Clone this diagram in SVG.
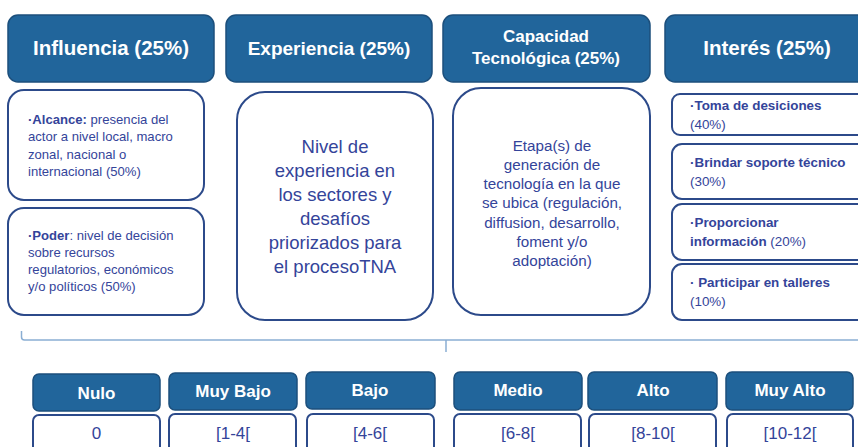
<svg xmlns="http://www.w3.org/2000/svg" width="858" height="447" viewBox="0 0 858 447">
<style>
.hd{fill:#21659b;stroke:#1c4f7c;stroke-width:1.5}
.bx{fill:#fff;stroke:#2c4a8a;stroke-width:2}
.ht{font-family:"Liberation Sans",Arial,sans-serif;font-weight:bold;fill:#fff;text-anchor:middle}
.t{font-family:"Liberation Sans",Arial,sans-serif;fill:#34449a}
.b{font-weight:bold}
.c{text-anchor:middle}
</style>
<rect width="858" height="447" fill="#fff"/>
<g id="h-influencia"><rect class="hd" x="8" y="15" width="206" height="67" rx="10"/><text class="ht" x="111" y="55" font-size="20.5">Influencia (25%)</text></g>
<g id="h-experiencia"><rect class="hd" x="226" y="15" width="206" height="67" rx="10"/><text class="ht" x="329" y="55" font-size="19">Experiencia (25%)</text></g>
<g id="h-capacidad"><rect class="hd" x="443" y="15" width="207" height="67" rx="10"/><text class="ht" x="546" y="42" font-size="17">Capacidad</text><text class="ht" x="546" y="64" font-size="17">Tecnológica (25%)</text></g>
<g id="h-interes"><rect class="hd" x="665" y="15" width="210" height="67" rx="10"/><text class="ht" x="767" y="55" font-size="20.5">Interés (25%)</text></g>

<g id="alcance"><rect class="bx" x="8" y="90" width="196" height="110" rx="16"/>
<text class="t" font-size="13.1"><tspan x="28" y="124"><tspan class="b">·Alcance:</tspan> presencia del</tspan><tspan x="28" y="141">actor a nivel local, macro</tspan><tspan x="28" y="159">zonal, nacional o</tspan><tspan x="28" y="176">internacional (50%)</tspan></text></g>
<g id="poder"><rect class="bx" x="8" y="208" width="196" height="107" rx="16"/>
<text class="t" font-size="13.1"><tspan x="28" y="240"><tspan class="b">·Poder</tspan>: nivel de decisión</tspan><tspan x="28" y="257">sobre recursos</tspan><tspan x="28" y="274">regulatorios, económicos</tspan><tspan x="28" y="291">y/o políticos (50%)</tspan></text></g>
<g id="experiencia"><rect class="bx" x="237" y="92" width="196" height="228" rx="28"/>
<text class="t c" font-size="18.5"><tspan x="335" y="153">Nivel de</tspan><tspan x="335" y="177">experiencia en</tspan><tspan x="335" y="201">los sectores y</tspan><tspan x="335" y="225">desafíos</tspan><tspan x="335" y="249">priorizados para</tspan><tspan x="335" y="273">el procesoTNA</tspan></text></g>
<g id="capacidad"><rect class="bx" x="453" y="88" width="197" height="227" rx="28"/>
<text class="t c" font-size="15.2"><tspan x="552" y="151">Etapa(s) de</tspan><tspan x="552" y="170">generación de</tspan><tspan x="552" y="189">tecnología en la que</tspan><tspan x="552" y="208">se ubica (regulación,</tspan><tspan x="552" y="228">diffusion, desarrollo,</tspan><tspan x="552" y="247">foment y/o</tspan><tspan x="552" y="266">adoptación)</tspan></text></g>
<g id="toma"><rect class="bx" x="672" y="94" width="200" height="41" rx="8"/>
<text class="t" font-size="13.4"><tspan x="690" y="110" class="b">·Toma de desiciones</tspan><tspan x="690" y="129">(40%)</tspan></text></g>
<g id="brindar"><rect class="bx" x="672" y="144" width="200" height="55" rx="10"/>
<text class="t" font-size="13.4"><tspan x="690" y="167" class="b">·Brindar soporte técnico</tspan><tspan x="690" y="186">(30%)</tspan></text></g>
<g id="proporcionar"><rect class="bx" x="672" y="204" width="200" height="56" rx="10"/>
<text class="t" font-size="13.4"><tspan x="690" y="227" class="b">·Proporcionar</tspan><tspan x="690" y="246"><tspan class="b">información</tspan> (20%)</tspan></text></g>
<g id="participar"><rect class="bx" x="672" y="264" width="200" height="56" rx="10"/>
<text class="t" font-size="13.4"><tspan x="690" y="287" class="b">· Participar en talleres</tspan><tspan x="690" y="306">(10%)</tspan></text></g>

<g id="connectors"><path d="M21.5 331 V337 Q21.5 340 24.5 340 H858 M446 340 V352" fill="none" stroke="#8aaed3" stroke-width="1.5"/></g>

<g id="nulo"><rect class="hd" x="33" y="374" width="127" height="37" rx="6"/><text class="ht" x="96.5" y="399" font-size="17">Nulo</text>
<rect class="bx" x="33" y="415" width="127" height="40" rx="6"/><text class="t c" x="96.5" y="439" font-size="17">0</text></g>
<g id="muybajo"><rect class="hd" x="169" y="373" width="128" height="37" rx="6"/><text class="ht" x="233" y="397" font-size="17">Muy Bajo</text>
<rect class="bx" x="169" y="414" width="127" height="40" rx="6"/><text class="t c" x="233" y="439" font-size="17">[1-4[</text></g>
<g id="bajo"><rect class="hd" x="306" y="372" width="129" height="37" rx="6"/><text class="ht" x="370" y="396" font-size="17">Bajo</text>
<rect class="bx" x="307" y="414" width="127" height="40" rx="6"/><text class="t c" x="370" y="439" font-size="17">[4-6[</text></g>
<g id="medio"><rect class="hd" x="454" y="372" width="128" height="38" rx="6"/><text class="ht" x="518" y="396" font-size="17">Medio</text>
<rect class="bx" x="454" y="414" width="127" height="40" rx="6"/><text class="t c" x="518" y="439" font-size="17">[6-8[</text></g>
<g id="alto"><rect class="hd" x="588" y="372" width="129" height="38" rx="6"/><text class="ht" x="653" y="396" font-size="17">Alto</text>
<rect class="bx" x="589" y="414" width="127" height="40" rx="6"/><text class="t c" x="653" y="439" font-size="17">[8-10[</text></g>
<g id="muyalto"><rect class="hd" x="726" y="372" width="127" height="38" rx="6"/><text class="ht" x="790" y="396" font-size="17">Muy Alto</text>
<rect class="bx" x="727" y="414" width="126" height="40" rx="6"/><text class="t c" x="790" y="439" font-size="17">[10-12[</text></g>
</svg>
